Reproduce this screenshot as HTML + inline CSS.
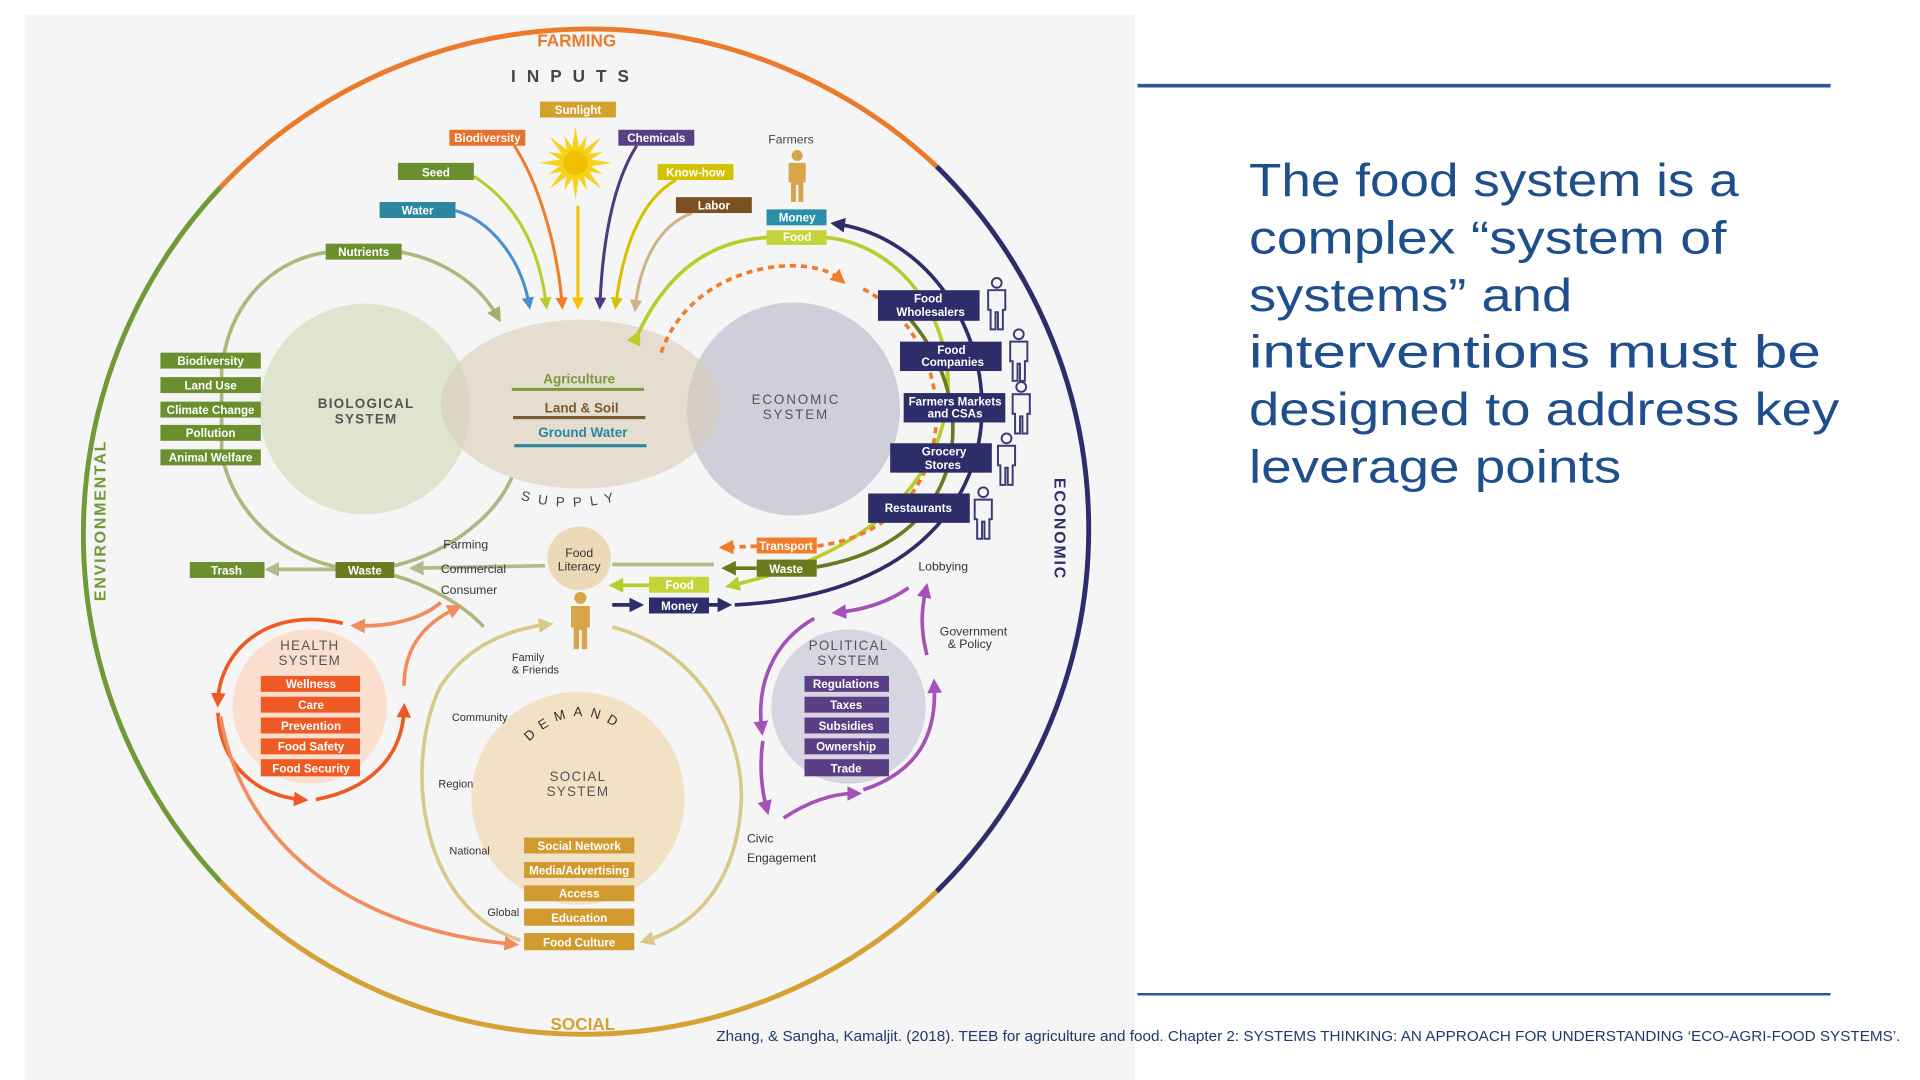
<!DOCTYPE html>
<html><head><meta charset="utf-8"><style>
html,body{margin:0;padding:0;background:#fff;}
svg{display:block;}
text{font-family:"Liberation Sans",sans-serif;}
</style></head><body>
<svg width="1920" height="1080" viewBox="0 0 1568 882" xmlns="http://www.w3.org/2000/svg">
<defs>
<marker id="aGreen" viewBox="0 0 10 10" refX="5" refY="5" markerWidth="4" markerHeight="4" orient="auto"><path d="M0,0L10,5L0,10z" fill="#a5ad6c"/></marker>
<marker id="aBlue" viewBox="0 0 10 10" refX="5" refY="5" markerWidth="4" markerHeight="4" orient="auto"><path d="M0,0L10,5L0,10z" fill="#4a90d0"/></marker>
<marker id="aLime" viewBox="0 0 10 10" refX="5" refY="5" markerWidth="4" markerHeight="4" orient="auto"><path d="M0,0L10,5L0,10z" fill="#b8cc2c"/></marker>
<marker id="aOr" viewBox="0 0 10 10" refX="5" refY="5" markerWidth="4" markerHeight="4" orient="auto"><path d="M0,0L10,5L0,10z" fill="#f07d2a"/></marker>
<marker id="aSun" viewBox="0 0 10 10" refX="5" refY="5" markerWidth="4" markerHeight="4" orient="auto"><path d="M0,0L10,5L0,10z" fill="#f5c400"/></marker>
<marker id="aPur" viewBox="0 0 10 10" refX="5" refY="5" markerWidth="4" markerHeight="4" orient="auto"><path d="M0,0L10,5L0,10z" fill="#4e3a7e"/></marker>
<marker id="aYel" viewBox="0 0 10 10" refX="5" refY="5" markerWidth="4" markerHeight="4" orient="auto"><path d="M0,0L10,5L0,10z" fill="#d4c200"/></marker>
<marker id="aTan" viewBox="0 0 10 10" refX="5" refY="5" markerWidth="4" markerHeight="4" orient="auto"><path d="M0,0L10,5L0,10z" fill="#cfb48a"/></marker>
<marker id="aNavy" viewBox="0 0 10 10" refX="5" refY="5" markerWidth="4" markerHeight="4" orient="auto"><path d="M0,0L10,5L0,10z" fill="#2d2d6a"/></marker>
<marker id="aOlive" viewBox="0 0 10 10" refX="5" refY="5" markerWidth="4" markerHeight="4" orient="auto"><path d="M0,0L10,5L0,10z" fill="#6b7a1f"/></marker>
<marker id="aSage" viewBox="0 0 10 10" refX="5" refY="5" markerWidth="4" markerHeight="4" orient="auto"><path d="M0,0L10,5L0,10z" fill="#b3b98a"/></marker>
<marker id="aRed" viewBox="0 0 10 10" refX="5" refY="5" markerWidth="4" markerHeight="4" orient="auto"><path d="M0,0L10,5L0,10z" fill="#ee5a24"/></marker>
<marker id="aSal" viewBox="0 0 10 10" refX="5" refY="5" markerWidth="4" markerHeight="4" orient="auto"><path d="M0,0L10,5L0,10z" fill="#f28c5e"/></marker>
<marker id="aSoc" viewBox="0 0 10 10" refX="5" refY="5" markerWidth="4" markerHeight="4" orient="auto"><path d="M0,0L10,5L0,10z" fill="#d8c98a"/></marker>
<marker id="aVio" viewBox="0 0 10 10" refX="5" refY="5" markerWidth="4" markerHeight="4" orient="auto"><path d="M0,0L10,5L0,10z" fill="#a552b8"/></marker>
<symbol id="pf" viewBox="0 0 20 44"><circle cx="10" cy="5" r="4.5" fill="#d8a64a"/><path d="M3,11h14v16h-2v16h-4v-14h-2v14h-4v-16h-2z" fill="#d8a64a"/></symbol>
<symbol id="po" viewBox="0 0 20 44"><circle cx="10" cy="5" r="4" fill="none" stroke="#3a3a78" stroke-width="1.6"/><path d="M3,11h14v16h-2v16h-4v-14h-2v14h-4v-16h-2z" fill="#f5f5f5" stroke="#3a3a78" stroke-width="1.6"/></symbol>
</defs>

<rect x="0" y="0" width="1568" height="882" fill="#fff"/>
<rect x="20" y="12" width="907" height="870" fill="#f5f5f5"/>

<g fill="none" stroke-width="4">
<path d="M180,153 A415,415 0 0 1 765,136" stroke="#ec7a2c"/>
<path d="M765,136 A415,415 0 0 1 765,728" stroke="#2d2d6a"/>
<path d="M765,728 A415,415 0 0 1 180,720" stroke="#d5a034"/>
<path d="M180,720 A415,415 0 0 1 180,153" stroke="#6f9a37"/>
</g>
<text x="471" y="38" font-size="14" font-weight="bold" fill="#ec7a2c" text-anchor="middle">FARMING</text>
<text x="470" y="67" font-size="14" font-weight="bold" fill="#444" text-anchor="middle" letter-spacing="9">INPUTS</text>
<text x="476" y="841" font-size="14" font-weight="bold" fill="#d5a034" text-anchor="middle">SOCIAL</text>
<text transform="translate(86,425) rotate(-90)" font-size="13" font-weight="bold" fill="#6f9a37" text-anchor="middle" letter-spacing="1.5">ENVIRONMENTAL</text>
<text transform="translate(861,432) rotate(90)" font-size="13" font-weight="bold" fill="#2d2d6a" text-anchor="middle" letter-spacing="1.5">ECONOMIC</text>

<circle cx="298" cy="334" r="86" fill="#dfe4cf"/>
<circle cx="648" cy="334" r="87" fill="#cfcfdc"/>
<ellipse cx="474" cy="330" rx="114" ry="69" fill="#d9cdb8" opacity="0.6"/>
<text x="299" y="333" font-size="11" font-weight="bold" fill="#555" text-anchor="middle" letter-spacing="1">BIOLOGICAL</text>
<text x="299" y="346" font-size="11" font-weight="bold" fill="#555" text-anchor="middle" letter-spacing="1">SYSTEM</text>
<text x="650" y="330" font-size="11" fill="#555" text-anchor="middle" letter-spacing="1.5">ECONOMIC</text>
<text x="650" y="342" font-size="11" fill="#555" text-anchor="middle" letter-spacing="1.5">SYSTEM</text>
<text x="473" y="313" font-size="11" font-weight="bold" fill="#7a9a3a" text-anchor="middle">Agriculture</text>
<line x1="418" y1="318" x2="526" y2="318" stroke="#7a9a3a" stroke-width="2.5"/>
<text x="475" y="337" font-size="11" font-weight="bold" fill="#7a5a30" text-anchor="middle">Land &amp; Soil</text>
<line x1="419" y1="341" x2="527" y2="341" stroke="#7a5a30" stroke-width="2.5"/>
<text x="476" y="357" font-size="11" font-weight="bold" fill="#2b86a0" text-anchor="middle">Ground Water</text>
<line x1="420" y1="364" x2="528" y2="364" stroke="#2b86a0" stroke-width="2.5"/>
<path id="sup" d="M425,408 Q475,422 525,402" fill="none"/>
<text font-size="11" fill="#444" letter-spacing="7"><textPath href="#sup">SUPPLY</textPath></text>

<g fill="none" stroke="#b0b67e" stroke-width="3">
<path d="M182,295 C190,240 230,210 268,206"/>
<path d="M328,206 C360,212 390,230 406,258" marker-end="url(#aGreen)"/>
<path d="M182,375 C195,430 245,462 290,465"/>
<path d="M322,462 C370,450 405,420 418,390"/>
<path d="M322,470 C350,478 380,495 395,512"/>
<line x1="181" y1="290" x2="181" y2="380"/>
</g>

<g fill="none" stroke-width="2.5">
<path d="M372,172 C400,180 425,210 432,248" stroke="#4a90d0" marker-end="url(#aBlue)"/>
<path d="M387,144 C420,165 440,200 446,248" stroke="#b8cc2c" marker-end="url(#aLime)"/>
<path d="M420,119 C440,150 455,200 459,248" stroke="#f07d2a" marker-end="url(#aOr)"/>
<path d="M472,168 L472,248" stroke="#f5c400" marker-end="url(#aSun)"/>
<path d="M520,119 C500,150 492,200 490,248" stroke="#4e3a7e" marker-end="url(#aPur)"/>
<path d="M552,147 C520,165 508,210 503,248" stroke="#d4c200" marker-end="url(#aYel)"/>
<path d="M565,174 C535,185 522,220 519,250" stroke="#cfb48a" marker-end="url(#aTan)"/>
</g>
<g transform="translate(470,133)">
<polygon points="30,0 8.3,3.4 21.2,21.2 3.4,8.3 0,30 -3.4,8.3 -21.2,21.2 -8.3,3.4 -30,0 -8.3,-3.4 -21.2,-21.2 -3.4,-8.3 0,-30 3.4,-8.3 21.2,-21.2 8.3,-3.4" fill="#f7d21a"/>
<polygon transform="rotate(22.5)" points="24,0 8.3,3.4 17,17 3.4,8.3 0,24 -3.4,8.3 -17,17 -8.3,3.4 -24,0 -8.3,-3.4 -17,-17 -3.4,-8.3 0,-24 3.4,-8.3 17,-17 8.3,-3.4" fill="#f7d21a"/>
<circle r="10" fill="#f0c000"/>
</g>

<g fill="none" stroke-width="3">
<path d="M520,275 Q555,198 626,194" stroke="#b8cc2c" marker-start="url(#aLime)"/>
<path d="M675,194 C790,205 850,420 598,478" stroke="#b8cc2c" marker-end="url(#aLime)"/>
<path d="M600,494 C880,480 830,205 684,183" stroke="#2d2d6a" marker-end="url(#aNavy)"/>
<path d="M738,255 C800,320 800,440 667,463" stroke="#6b7a1f"/>
<path d="M618,464 L595,464" stroke="#6b7a1f" marker-end="url(#aOlive)"/>
<path d="M540,288 C565,215 660,205 686,228" stroke="#f07d2a" stroke-dasharray="5,4" marker-end="url(#aOr)"/>
<path d="M705,236 C790,280 790,430 667,446" stroke="#f07d2a" stroke-dasharray="5,4"/>
<path d="M618,446 L593,447" stroke="#f07d2a" stroke-dasharray="5,4" marker-end="url(#aOr)"/>
</g>

<g fill="none" stroke-width="3">
<line x1="583" y1="461" x2="500" y2="461" stroke="#b3b98a"/>
<line x1="445" y1="462" x2="340" y2="464" stroke="#b3b98a" marker-end="url(#aSage)"/>
<line x1="274" y1="465" x2="222" y2="465" stroke="#b3b98a" marker-end="url(#aSage)"/>
<line x1="530" y1="478" x2="503" y2="478" stroke="#b8cc2c" marker-end="url(#aLime)"/>
<line x1="500" y1="494" x2="520" y2="494" stroke="#2d2d6a" marker-end="url(#aNavy)"/>
<line x1="579" y1="494" x2="592" y2="494" stroke="#2d2d6a" marker-end="url(#aNavy)"/>
</g>

<g font-size="9.5" fill="#fff" text-anchor="middle" font-weight="bold">
<rect x="441" y="83" width="62" height="13" fill="#d4a030"/><text x="472" y="93">Sunlight</text>
<rect x="367" y="106" width="62" height="13" fill="#e8712a"/><text x="398" y="116">Biodiversity</text>
<rect x="505" y="106" width="62" height="13" fill="#5b3f84"/><text x="536" y="116">Chemicals</text>
<rect x="325" y="133" width="62" height="14" fill="#6b8e2f"/><text x="356" y="144">Seed</text>
<rect x="537" y="134" width="62" height="13" fill="#d4c200"/><text x="568" y="144">Know-how</text>
<rect x="310" y="165" width="62" height="13" fill="#2b86a0"/><text x="341" y="175">Water</text>
<rect x="552" y="161" width="62" height="13" fill="#7a5020"/><text x="583" y="171">Labor</text>
<rect x="266" y="199" width="62" height="13" fill="#6b8e2f"/><text x="297" y="209">Nutrients</text>
<rect x="131" y="288" width="82" height="13" fill="#6b8e2f"/><text x="172" y="298">Biodiversity</text>
<rect x="131" y="308" width="82" height="13" fill="#6b8e2f"/><text x="172" y="318">Land Use</text>
<rect x="131" y="328" width="82" height="13" fill="#6b8e2f"/><text x="172" y="338">Climate Change</text>
<rect x="131" y="347" width="82" height="13" fill="#6b8e2f"/><text x="172" y="357">Pollution</text>
<rect x="131" y="367" width="82" height="13" fill="#6b8e2f"/><text x="172" y="377">Animal Welfare</text>
<rect x="626" y="171" width="49" height="13" fill="#2b8fa8"/><text x="651" y="181">Money</text>
<rect x="626" y="188" width="49" height="12" fill="#c4d53a"/><text x="651" y="197">Food</text>
<rect x="717" y="237" width="83" height="25" fill="#2d2d6a"/><text x="758" y="247">Food</text><text x="760" y="258">Wholesalers</text>
<rect x="735" y="279" width="83" height="24" fill="#2d2d6a"/><text x="777" y="289">Food</text><text x="778" y="299">Companies</text>
<rect x="738" y="321" width="83" height="24" fill="#2d2d6a"/><text x="780" y="331">Farmers Markets</text><text x="780" y="341">and CSAs</text>
<rect x="727" y="362" width="83" height="24" fill="#2d2d6a"/><text x="771" y="372">Grocery</text><text x="770" y="383">Stores</text>
<rect x="709" y="403" width="83" height="24" fill="#2d2d6a"/><text x="750" y="418">Restaurants</text>
<rect x="618" y="439" width="49" height="13" fill="#f07d2a"/><text x="642" y="449">Transport</text>
<rect x="618" y="457" width="49" height="14" fill="#6b7a1f"/><text x="642" y="468">Waste</text>
<rect x="530" y="471" width="49" height="13" fill="#c4d53a"/><text x="555" y="481">Food</text>
<rect x="530" y="488" width="49" height="13" fill="#2d2d6a"/><text x="555" y="498">Money</text>
<rect x="155" y="459" width="61" height="13" fill="#6b8e2f"/><text x="185" y="469">Trash</text>
<rect x="274" y="459" width="48" height="13" fill="#6b7a1f"/><text x="298" y="469">Waste</text>
</g>

<text x="646" y="117" font-size="10" fill="#444" text-anchor="middle">Farmers</text>
<use href="#pf" x="641" y="122" width="20" height="44"/>
<use href="#po" x="804" y="226" width="20" height="44"/>
<use href="#po" x="822" y="268" width="20" height="44"/>
<use href="#po" x="824" y="311" width="20" height="44"/>
<use href="#po" x="812" y="353" width="20" height="44"/>
<use href="#po" x="793" y="397" width="20" height="44"/>

<circle cx="473" cy="456" r="26" fill="#ecd9b8"/>
<text x="473" y="455" font-size="10" fill="#333" text-anchor="middle">Food</text>
<text x="473" y="466" font-size="10" fill="#333" text-anchor="middle">Literacy</text>
<use href="#pf" x="463" y="476" width="22" height="62"/>
<text x="362" y="448" font-size="10" fill="#333">Farming</text>
<text x="360" y="468" font-size="10" fill="#333">Commercial</text>
<text x="360" y="485" font-size="10" fill="#333">Consumer</text>

<circle cx="253" cy="577" r="63" fill="#fadfcf"/>
<text x="253" y="531" font-size="11" fill="#555" text-anchor="middle" letter-spacing="1">HEALTH</text>
<text x="253" y="543" font-size="11" fill="#555" text-anchor="middle" letter-spacing="1">SYSTEM</text>
<g font-size="9.5" fill="#fff" text-anchor="middle" font-weight="bold">
<rect x="213" y="552" width="81" height="13" fill="#ef5a24"/><text x="254" y="562">Wellness</text>
<rect x="213" y="569" width="81" height="13" fill="#ef5a24"/><text x="254" y="579">Care</text>
<rect x="213" y="586" width="81" height="13" fill="#ef5a24"/><text x="254" y="596">Prevention</text>
<rect x="213" y="603" width="81" height="13" fill="#ef5a24"/><text x="254" y="613">Food Safety</text>
<rect x="213" y="620" width="81" height="14" fill="#ef5a24"/><text x="254" y="631">Food Security</text>
</g>
<g fill="none" stroke-width="3">
<path d="M280,509 C220,495 180,530 178,572" stroke="#ee5a24" marker-end="url(#aRed)"/>
<path d="M178,582 C180,625 210,650 246,653" stroke="#ee5a24" marker-end="url(#aRed)"/>
<path d="M258,653 C300,645 328,620 330,580" stroke="#ee5a24" marker-end="url(#aRed)"/>
<path d="M360,492 C345,505 320,512 292,511" stroke="#f28c5e" marker-end="url(#aSal)"/>
<path d="M330,560 C330,530 345,510 372,497" stroke="#f28c5e" marker-end="url(#aSal)"/>
<path d="M180,585 C200,700 300,760 418,771" stroke="#f28c5e" marker-end="url(#aSal)"/>
</g>

<g fill="none" stroke="#d8c98a" stroke-width="3">
<path d="M425,768 C340,740 330,620 360,560 C380,530 410,515 446,510" marker-end="url(#aSoc)"/>
<path d="M500,512 C570,530 610,600 605,660 C600,720 570,755 528,768" marker-end="url(#aSoc)"/>
</g>
<circle cx="472" cy="652" r="87" fill="#f3e1c6"/>
<path id="dem" d="M432,606 Q472,565 516,604" fill="none"/>
<text font-size="11" fill="#333" letter-spacing="6"><textPath href="#dem">DEMAND</textPath></text>
<text x="472" y="638" font-size="11" fill="#555" text-anchor="middle" letter-spacing="1">SOCIAL</text>
<text x="472" y="650" font-size="11" fill="#555" text-anchor="middle" letter-spacing="1">SYSTEM</text>
<g font-size="9.5" fill="#fff" text-anchor="middle" font-weight="bold">
<rect x="428" y="684" width="90" height="13" fill="#d19a2e"/><text x="473" y="694">Social Network</text>
<rect x="428" y="704" width="90" height="13" fill="#d19a2e"/><text x="473" y="714">Media/Advertising</text>
<rect x="428" y="723" width="90" height="13" fill="#d19a2e"/><text x="473" y="733">Access</text>
<rect x="428" y="742" width="90" height="14" fill="#d19a2e"/><text x="473" y="753">Education</text>
<rect x="428" y="762" width="90" height="14" fill="#d19a2e"/><text x="473" y="773">Food Culture</text>
</g>
<g font-size="9" fill="#333">
<text x="418" y="540">Family</text><text x="418" y="550">&amp; Friends</text>
<text x="369" y="589">Community</text>
<text x="358" y="643">Region</text>
<text x="367" y="698">National</text>
<text x="398" y="748">Global</text>
</g>

<circle cx="693" cy="577" r="63" fill="#d8d5e2"/>
<text x="693" y="531" font-size="11" fill="#555" text-anchor="middle" letter-spacing="1">POLITICAL</text>
<text x="693" y="543" font-size="11" fill="#555" text-anchor="middle" letter-spacing="1">SYSTEM</text>
<g font-size="9.5" fill="#fff" text-anchor="middle" font-weight="bold">
<rect x="657" y="552" width="69" height="13" fill="#5b3f84"/><text x="691" y="562">Regulations</text>
<rect x="657" y="569" width="69" height="13" fill="#5b3f84"/><text x="691" y="579">Taxes</text>
<rect x="657" y="586" width="69" height="13" fill="#5b3f84"/><text x="691" y="596">Subsidies</text>
<rect x="657" y="603" width="69" height="13" fill="#5b3f84"/><text x="691" y="613">Ownership</text>
<rect x="657" y="620" width="69" height="14" fill="#5b3f84"/><text x="691" y="631">Trade</text>
</g>
<g fill="none" stroke="#a552b8" stroke-width="3">
<path d="M742,480 C725,492 705,498 685,500" marker-end="url(#aVio)"/>
<path d="M665,505 C630,525 618,560 622,595" marker-end="url(#aVio)"/>
<path d="M623,605 C620,625 622,645 626,660" marker-end="url(#aVio)"/>
<path d="M640,668 C660,655 680,648 698,648" marker-end="url(#aVio)"/>
<path d="M705,645 C750,630 765,600 763,560" marker-end="url(#aVio)"/>
<path d="M757,535 C752,515 752,500 756,482" marker-end="url(#aVio)"/>
</g>
<g font-size="10" fill="#333">
<text x="750" y="466">Lobbying</text>
<text x="795" y="519" text-anchor="middle">Government</text>
<text x="792" y="529" text-anchor="middle">&amp; Policy</text>
<text x="610" y="688">Civic</text>
<text x="610" y="704">Engagement</text>
</g>

<line x1="929" y1="70" x2="1495" y2="70" stroke="#2e5597" stroke-width="3"/>
<line x1="929" y1="812" x2="1495" y2="812" stroke="#2e5597" stroke-width="2"/>
<g font-size="37.5" fill="#1f4e8c" lengthAdjust="spacingAndGlyphs">
<text x="1020" y="160" textLength="400" lengthAdjust="spacingAndGlyphs">The food system is a</text>
<text x="1020" y="207" textLength="390" lengthAdjust="spacingAndGlyphs">complex “system of</text>
<text x="1020" y="254" textLength="264" lengthAdjust="spacingAndGlyphs">systems” and</text>
<text x="1020" y="300" textLength="467" lengthAdjust="spacingAndGlyphs">interventions must be</text>
<text x="1020" y="347" textLength="482" lengthAdjust="spacingAndGlyphs">designed to address key</text>
<text x="1020" y="394" textLength="304" lengthAdjust="spacingAndGlyphs">leverage points</text>
</g>
<text x="585" y="850" font-size="12" fill="#1f3a6a" textLength="967" lengthAdjust="spacingAndGlyphs">Zhang, &amp; Sangha, Kamaljit. (2018). TEEB for agriculture and food. Chapter 2: SYSTEMS THINKING: AN APPROACH FOR UNDERSTANDING ‘ECO-AGRI-FOOD SYSTEMS’.</text>
</svg>
</body></html>
